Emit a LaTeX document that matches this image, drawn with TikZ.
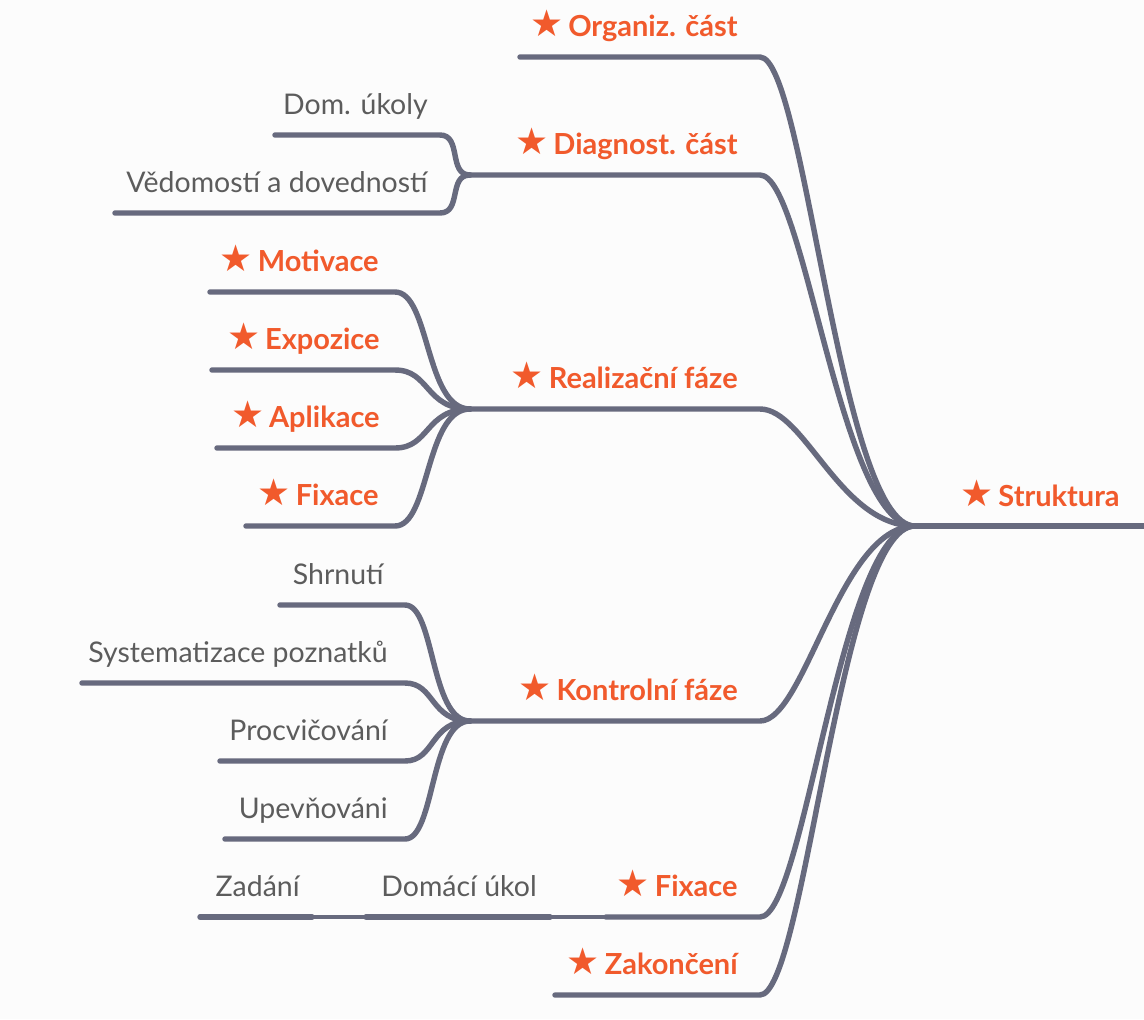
\documentclass[tikz,border=0pt]{standalone}
\usepackage{fontspec}
\setmainfont{Lato}
\newfontfamily\hvezdafont{DejaVu Sans}
\usepackage{xcolor}
\usepackage{tikz}
\usetikzlibrary{positioning}

\definecolor{linka}{HTML}{676A7E}
\definecolor{oranz}{HTML}{F15A2C}
\definecolor{seda}{HTML}{5C5C5C}
\newcommand{\hv}{{\hvezdafont\fontsize{21}{21}\selectfont\char"2605}\,}

\tikzset{
  vetev/.style={draw=linka, line width=3.1pt, line cap=round, line join=round},
  spojka/.style={draw=linka, line width=1.8pt},
  hlavni/.style={anchor=base east, inner sep=0pt, text=oranz,
                 font=\fontsize{16.5}{19}\selectfont\bfseries},
  podtema/.style={anchor=base east, inner sep=0pt, text=seda,
                  font=\fontsize{16.2}{19}\selectfont},
}

\begin{document}
\begin{tikzpicture}[x=0.02cm, y=-0.02cm]
  \fill[white!99!black] (0,0) rectangle (1144,1019);
  \useasboundingbox (0,0) rectangle (1144,1019);

  % koren
  \coordinate (koren) at (915,526);
  \draw[vetev] (koren) -- (1150,526);
  \node[hlavni] (strukt) at (1120,506) {\hv Struktura};

  % 1. uroven
  \coordinate (org-a) at (520,57);   \coordinate (org-b) at (760,57);
  \coordinate (diag-a) at (470,175); \coordinate (diag-b) at (760,175);
  \coordinate (real-a) at (470,409); \coordinate (real-b) at (760,409);
  \coordinate (kon-a) at (470,721);  \coordinate (kon-b) at (760,721);
  \coordinate (fix-a) at (606,917);  \coordinate (fix-b) at (760,917);
  \coordinate (zak-a) at (555,995);  \coordinate (zak-b) at (760,995);

  \foreach \v in {org, diag, real, kon, fix, zak}
    \draw[vetev] (\v-a) -- (\v-b) .. controls +(45,0) and +(-75,0) .. (koren);

  \node[hlavni] (org) at (738,36) {\hv Organiz. část};
  \node[hlavni] (diag) at (738,154) {\hv Diagnost. část};
  \node[hlavni] (real) at (738,388) {\hv Realizační fáze};
  \node[hlavni] (kon) at (738,700) {\hv Kontrolní fáze};
  \node[hlavni] (fix) at (738,896) {\hv Fixace};
  \node[hlavni] (zak) at (738,974) {\hv Zakončení};

  % diagnosticka cast
  \coordinate (dom-a) at (275,135); \coordinate (dom-b) at (440,135);
  \coordinate (ved-a) at (115,213); \coordinate (ved-b) at (440,213);
  \foreach \v in {dom, ved}
    \draw[vetev] (\v-a) -- (\v-b) .. controls +(22,0) and +(-22,0) .. (diag-a);
  \node[podtema] (dom) at (428,114) {Dom. úkoly};
  \node[podtema] (ved) at (428,192) {Vědomostí a dovedností};

  % realizacni faze
  \coordinate (mot-a) at (210,292);  \coordinate (mot-b) at (395,292);
  \coordinate (expo-a) at (212,370); \coordinate (expo-b) at (395,370);
  \coordinate (apl-a) at (217,448);  \coordinate (apl-b) at (395,448);
  \coordinate (fx-a) at (246,526);   \coordinate (fx-b) at (395,526);
  \foreach \v in {mot, expo, apl, fx}
    \draw[vetev] (\v-a) -- (\v-b) .. controls +(35,0) and +(-45,0) .. (real-a);
  \node[hlavni] (mot) at (379,271) {\hv Motivace};
  \node[hlavni] (expo) at (380,349) {\hv Expozice};
  \node[hlavni] (apl) at (380,427) {\hv Aplikace};
  \node[hlavni] (fx) at (379,505) {\hv Fixace};

  % kontrolni faze
  \coordinate (shr-a) at (280,605);  \coordinate (shr-b) at (405,605);
  \coordinate (sys-a) at (82,683);   \coordinate (sys-b) at (405,683);
  \coordinate (proc-a) at (220,761); \coordinate (proc-b) at (405,761);
  \coordinate (upev-a) at (225,839); \coordinate (upev-b) at (405,839);
  \foreach \v in {shr, sys, proc, upev}
    \draw[vetev] (\v-a) -- (\v-b) .. controls +(30,0) and +(-40,0) .. (kon-a);
  \node[podtema] (shr) at (384,584) {Shrnutí};
  \node[podtema] (sys) at (388,662) {Systematizace poznatků};
  \node[podtema] (proc) at (388,740) {Procvičování};
  \node[podtema] (upev) at (388,818) {Upevňováni};

  % fixace -- domaci ukol -- zadani
  \coordinate (du-a) at (366,917);  \coordinate (du-b) at (550,917);
  \coordinate (zad-a) at (200,917); \coordinate (zad-b) at (312,917);
  \draw[vetev] (du-a) -- (du-b);
  \draw[vetev] (zad-a) -- (zad-b);
  \draw[spojka] (du-b) -- (fix-a);
  \draw[spojka] (zad-b) -- (du-a);
  \node[podtema] (du) at (537,896) {Domácí úkol};
  \node[podtema] (zad) at (300,896) {Zadání};
\end{tikzpicture}
\end{document}
